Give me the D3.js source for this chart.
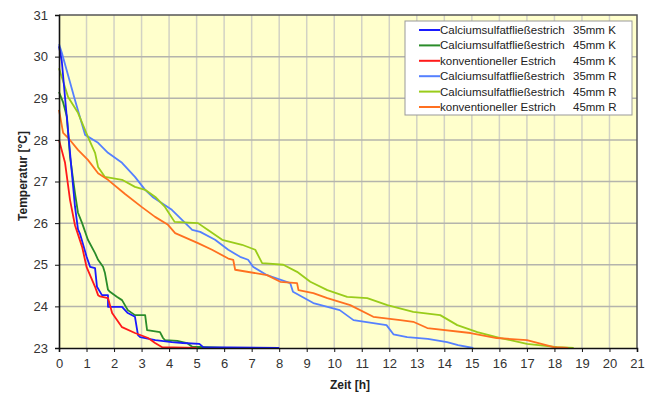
<!DOCTYPE html>
<html>
<head>
<meta charset="utf-8">
<script src="https://cdn.jsdelivr.net/npm/d3@7"></script>
<style>
  body { margin: 0; background: #fff; }
  text { font-family: "Liberation Sans", Arial, sans-serif; }
  .grid line { stroke: #c4c4bc; stroke-width: 1.5; }
  .tick text { fill: #333; font-size: 13px; }
</style>
</head>
<body>
<div id="wrapper"></div>
<script>
// series: hours and temperatures
const seriesNames = [
  'Calciumsulfatfließestrich', 'Calciumsulfatfließestrich', 'konventioneller Estrich',
  'Calciumsulfatfließestrich', 'Calciumsulfatfließestrich', 'konventioneller Estrich'
]
const seriesSuffix = ['35mm K', '45mm K', '45mm K', '35mm R', '45mm R', '45mm R']
const seriesColors = ['#1a1aff', '#2a8c2a', '#ff1a1a', '#5580ff', '#99cc1a', '#ff7020']

const hours35K = [0, 0.1, 0.33, 0.58, 0.69, 0.76, 1.0, 1.13, 1.31, 1.38, 1.56, 1.78, 1.78, 2.29, 2.5, 2.76, 2.87, 2.95, 3.5, 4.1, 4.5, 5.1, 5.24, 8.0]
const temps35K = [30.25, 29.9, 28.2, 26.4, 25.85, 25.75, 25.2, 24.95, 24.92, 24.47, 24.27, 24.27, 23.99, 23.99, 23.84, 23.75, 23.31, 23.26, 23.19, 23.14, 23.12, 23.1, 23.02, 23.0]

const hours45K = [0, 0.15, 0.29, 0.4, 0.58, 0.69, 0.84, 1.05, 1.31, 1.42, 1.6, 1.67, 1.78, 1.85, 2.1, 2.29, 2.5, 2.76, 3.13, 3.2, 3.67, 3.78, 3.85, 4.3, 4.65, 4.84, 6.1]
const temps45K = [29.15, 28.9, 28.55, 27.6, 26.72, 26.25, 26.0, 25.6, 25.28, 25.12, 24.95, 24.8, 24.4, 24.35, 24.23, 24.15, 23.91, 23.79, 23.79, 23.43, 23.38, 23.24, 23.19, 23.17, 23.12, 23.03, 23.0]

const hoursKonvK = [0, 0.22, 0.4, 0.58, 0.84, 1.0, 1.31, 1.42, 1.49, 1.78, 1.93, 2.29, 2.76, 3.24, 3.49, 3.75, 5.0]
const tempsKonvK = [28.0, 27.45, 26.56, 25.95, 25.43, 24.95, 24.47, 24.27, 24.24, 24.2, 23.84, 23.5, 23.36, 23.24, 23.12, 23.02, 23.0]

const hours35R = [0, 0.1, 0.58, 0.95, 1.42, 1.78, 2.29, 2.76, 3.13, 3.4, 4.1, 4.84, 5.13, 5.67, 6.15, 6.58, 6.87, 7.05, 7.56, 8.4, 8.5, 9.24, 10.2, 10.7, 11.9, 12.15, 12.65, 13.4, 14.1, 14.5, 15.05]
const temps35R = [30.3, 30.1, 28.96, 28.12, 27.93, 27.69, 27.45, 27.11, 26.8, 26.63, 26.32, 25.84, 25.79, 25.6, 25.36, 25.19, 25.12, 24.95, 24.75, 24.56, 24.35, 24.08, 23.91, 23.67, 23.55, 23.33, 23.26, 23.22, 23.14, 23.07, 23.0]

const hours45R = [0, 0.33, 0.69, 1.05, 1.31, 1.42, 1.67, 2.29, 2.76, 3.13, 3.5, 3.85, 4.2, 5.05, 5.4, 5.93, 6.65, 7.13, 7.38, 8.15, 8.65, 9.13, 9.75, 10.47, 11.2, 11.93, 12.87, 13.85, 14.47, 15.2, 16.04, 17.0, 18.1, 18.7]
const temps45R = [29.72, 29.03, 28.65, 28.07, 27.69, 27.35, 27.11, 27.04, 26.87, 26.8, 26.63, 26.39, 26.03, 26.0, 25.84, 25.6, 25.48, 25.36, 25.04, 25.0, 24.83, 24.59, 24.39, 24.23, 24.2, 24.03, 23.87, 23.79, 23.55, 23.38, 23.24, 23.1, 23.02, 23.0]

const hoursKonvR = [0, 0.15, 0.33, 0.69, 1.05, 1.42, 1.78, 2.4, 3.0, 3.49, 3.96, 4.22, 5.05, 5.56, 6.15, 6.33, 6.4, 7.56, 8.04, 8.65, 8.7, 9.24, 9.75, 10.58, 11.42, 12.4, 12.87, 13.38, 14.95, 15.9, 17.0, 17.98, 18.5]
const tempsKonvR = [28.72, 28.17, 28.05, 27.76, 27.52, 27.2, 27.04, 26.7, 26.39, 26.15, 25.96, 25.76, 25.52, 25.36, 25.15, 25.12, 24.88, 24.75, 24.59, 24.56, 24.39, 24.32, 24.2, 24.03, 23.75, 23.67, 23.63, 23.48, 23.36, 23.24, 23.19, 23.02, 23.0]

const seriesHours = [hours35K, hours45K, hoursKonvK, hours35R, hours45R, hoursKonvR]
const seriesTemps = [temps35K, temps45K, tempsKonvK, temps35R, temps45R, tempsKonvR]

const xTicks = d3.range(0, 22)
const yTicks = d3.range(23, 32)

async function drawChart() {
  let dimensions = {
    width: 648,
    height: 394,
    margin: { top: 15, right: 11, bottom: 46, left: 59 }
  }
  dimensions.boundedWidth = dimensions.width - dimensions.margin.left - dimensions.margin.right
  dimensions.boundedHeight = dimensions.height - dimensions.margin.top - dimensions.margin.bottom

  const wrapper = d3.select('#wrapper')
    .append('svg')
      .attr('width', dimensions.width)
      .attr('height', dimensions.height)

  const bounds = wrapper.append('g')
    .attr('transform', `translate(${dimensions.margin.left},${dimensions.margin.top})`)

  const xScale = d3.scaleLinear().domain([0, 21]).range([0, dimensions.boundedWidth])
  const yScale = d3.scaleLinear().domain([23, 31]).range([dimensions.boundedHeight, 0])

  // plot background
  bounds.append('rect')
    .attr('width', dimensions.boundedWidth)
    .attr('height', dimensions.boundedHeight)
    .attr('fill', '#ffffcc')

  // grid
  const grid = bounds.append('g').attr('class', 'grid')
  grid.selectAll('.vline').data(xTicks.slice(1, -1)).enter().append('line')
    .attr('x1', d => xScale(d)).attr('x2', d => xScale(d))
    .attr('y1', 0).attr('y2', dimensions.boundedHeight)
    .style('stroke', '#d2d2c4')
  grid.selectAll('.hline').data(yTicks.slice(1, -1)).enter().append('line')
    .attr('x1', 0).attr('x2', dimensions.boundedWidth)
    .attr('y1', d => yScale(d)).attr('y2', d => yScale(d))
    .style('stroke', '#b4b4ac')

  // frame top/right
  bounds.append('path')
    .attr('d', `M0,0H${dimensions.boundedWidth}V${dimensions.boundedHeight}`)
    .attr('fill', 'none')
    .attr('stroke', '#555')
    .attr('stroke-width', 1.5)

  // lines
  const lineGenerator = d3.line()
    .x(d => xScale(d[0]))
    .y(d => yScale(d[1]))

  const order = [3, 4, 5, 1, 0, 2]
  order.forEach(i => {
    const pts = seriesHours[i].map((h, j) => [h, seriesTemps[i][j]])
    bounds.append('path')
      .attr('d', lineGenerator(pts))
      .attr('fill', 'none')
      .attr('stroke', seriesColors[i])
      .attr('stroke-width', 1.8)
      .attr('stroke-linejoin', 'round')
  })

  // axes
  const xAxis = bounds.append('g')
    .attr('transform', `translate(0,${dimensions.boundedHeight})`)
    .call(d3.axisBottom(xScale).tickValues(xTicks).tickSize(4).tickPadding(7))
  const yAxis = bounds.append('g')
    .call(d3.axisLeft(yScale).tickValues(yTicks).tickSize(4).tickPadding(7))
  ;[xAxis, yAxis].forEach(a => {
    a.select('.domain').attr('stroke', '#111').attr('stroke-width', 1.6)
    a.selectAll('.tick line').attr('stroke', '#111')
    a.selectAll('.tick text').attr('font-family', null).attr('font-size', null)
  })

  // axis titles
  wrapper.append('text')
    .attr('x', 350).attr('y', 389)
    .attr('text-anchor', 'middle')
    .style('font-size', '12px').style('font-weight', 'bold').style('fill', '#222')
    .text('Zeit [h]')
  wrapper.append('text')
    .attr('transform', 'translate(27,176) rotate(-90)')
    .attr('text-anchor', 'middle')
    .style('font-size', '12px').style('font-weight', 'bold').style('fill', '#222')
    .text('Temperatur [°C]')

  // legend
  const legend = wrapper.append('g').attr('transform', 'translate(405,21)')
  legend.append('rect')
    .attr('width', 227).attr('height', 94)
    .attr('fill', '#fff').attr('stroke', '#999').attr('stroke-width', 1)
  seriesNames.forEach((name, i) => {
    const row = legend.append('g').attr('transform', `translate(0,${9 + i * 15.4})`)
    row.append('line')
      .attr('x1', 14).attr('x2', 35)
      .attr('stroke', seriesColors[i]).attr('stroke-width', 2)
    row.append('text')
      .attr('x', 35).attr('dy', '0.35em')
      .style('font-size', '11.5px').style('fill', '#222')
      .text(name)
    row.append('text')
      .attr('x', 168).attr('dy', '0.35em')
      .style('font-size', '11.5px').style('fill', '#222')
      .text(seriesSuffix[i])
  })
}
drawChart()
</script>
</body>
</html>
